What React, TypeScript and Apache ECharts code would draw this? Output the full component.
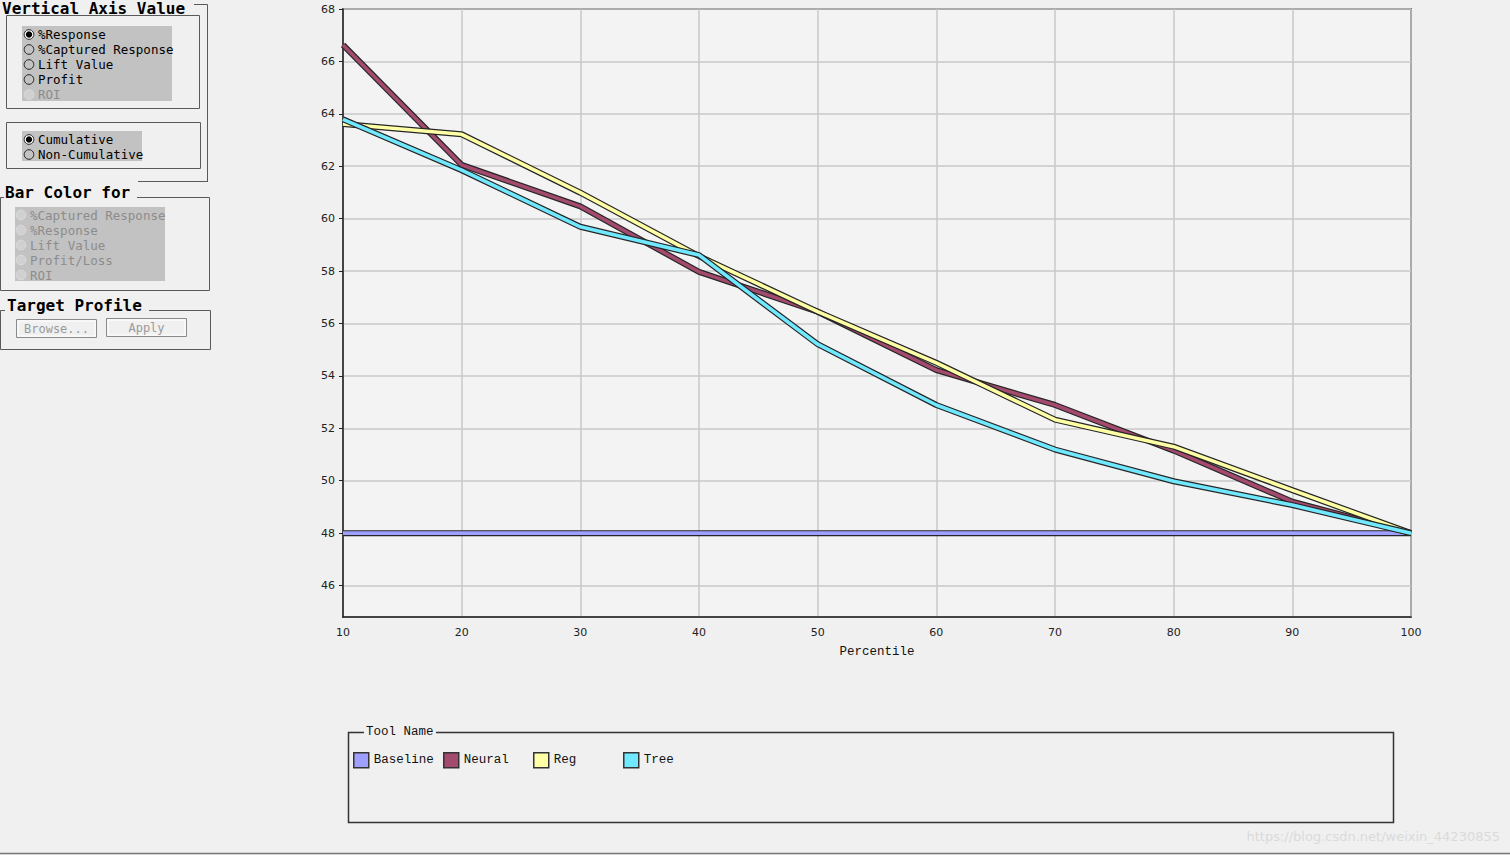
import React, { useEffect, useRef } from "react";
import * as echarts from "echarts";

const percentiles = [10, 20, 30, 40, 50, 60, 70, 80, 90, 100];
const seriesNames = ["Baseline", "Neural", "Reg", "Tree"];
const baselineValues = [48, 48, 48, 48, 48, 48, 48, 48, 48, 48];
const neuralValues = [66.63, 62.05, 60.47, 57.97, 56.45, 54.22, 52.89, 51.15, 49.2, 48.0];
const regValues = [63.61, 63.22, 60.99, 58.57, 56.45, 54.5, 52.33, 51.3, 49.64, 48.0];
const treeValues = [63.79, 61.85, 59.69, 58.61, 55.21, 52.89, 51.19, 49.98, 49.07, 48.0];
const seriesColors = ["#9f9fff", "#a34a6e", "#ffffa6", "#70e8ff"];
const axisValueOptions = ["%Response", "%Captured Response", "Lift Value", "Profit", "ROI"];
const cumulativeOptions = ["Cumulative", "Non-Cumulative"];
const barColorOptions = ["%Captured Response", "%Response", "Lift Value", "Profit/Loss", "ROI"];

const MONO = "'DejaVu Sans Mono', monospace";
const LEG = "'Liberation Mono', 'DejaVu Sans Mono', monospace";
const FRAME = "#5a5a5a";

function line(x1: number, y1: number, x2: number, y2: number, stroke = FRAME, lw = 1) {
  return { type: "line", silent: true, shape: { x1, y1, x2, y2 }, style: { stroke, lineWidth: lw } };
}
function label(text: string, x: number, y: number, font: string, fill = "#000", align = "left", valign = "middle") {
  return {
    type: "text",
    silent: true,
    x,
    y,
    style: { text, font, fill, textAlign: align, textVerticalAlign: valign },
  };
}
function radio(cx: number, cy: number, selected: boolean, disabled: boolean) {
  const els: any[] = [
    {
      type: "circle",
      silent: true,
      shape: { cx, cy, r: 4.8 },
      style: {
        fill: disabled ? "#d0d0d0" : selected ? "#ffffff" : "none",
        stroke: disabled ? "#dcdcdc" : "#222",
        lineWidth: 1,
      },
    },
  ];
  if (selected) {
    els.push({ type: "circle", silent: true, shape: { cx, cy, r: 3.2 }, style: { fill: "#000" } });
  }
  return els;
}

function buildPanel() {
  const g: any[] = [];
  // Group 1: Vertical Axis Value
  g.push(label("Vertical Axis Value", 2, 0, `bold 16px ${MONO}`, "#000", "left", "top"));
  g.push(line(194, 4.5, 207.5, 4.5));
  g.push(line(207.5, 4.5, 207.5, 182));
  g.push(line(138, 181.5, 207.5, 181.5));
  g.push({ type: "rect", silent: true, shape: { x: 6.5, y: 15.5, width: 193, height: 93 }, style: { fill: "none", stroke: FRAME, lineWidth: 1 } });
  g.push({ type: "rect", silent: true, shape: { x: 22, y: 26, width: 150, height: 75 }, style: { fill: "#c2c2c2" } });
  axisValueOptions.forEach((t, i) => {
    const cy = 34.5 + i * 15;
    const disabled = t === "ROI";
    g.push(...radio(29, cy, i === 0, disabled));
    g.push(label(t, 38, cy, `12.5px ${MONO}`, disabled ? "#8c8c8c" : "#000"));
  });
  g.push({ type: "rect", silent: true, shape: { x: 6.5, y: 122.5, width: 194, height: 46 }, style: { fill: "none", stroke: FRAME, lineWidth: 1 } });
  g.push({ type: "rect", silent: true, shape: { x: 22, y: 131, width: 120, height: 30 }, style: { fill: "#c2c2c2" } });
  cumulativeOptions.forEach((t, i) => {
    const cy = 139.5 + i * 15;
    g.push(...radio(29, cy, i === 0, false));
    g.push(label(t, 38, cy, `12.5px ${MONO}`));
  });

  // Group 2: Bar Color for
  g.push(label("Bar Color for", 5, 192, `bold 16px ${MONO}`));
  g.push(line(0.5, 197.5, 4, 197.5));
  g.push(line(137, 197.5, 209.5, 197.5));
  g.push(line(209.5, 197.5, 209.5, 290.5));
  g.push(line(0.5, 290.5, 209.5, 290.5));
  g.push(line(0.5, 197.5, 0.5, 290.5));
  g.push({ type: "rect", silent: true, shape: { x: 15, y: 207, width: 150, height: 74 }, style: { fill: "#c2c2c2" } });
  barColorOptions.forEach((t, i) => {
    const cy = 215 + i * 15;
    g.push(...radio(21, cy, false, true));
    g.push(label(t, 30, cy, `12.5px ${MONO}`, "#8c8c8c"));
  });

  // Group 3: Target Profile
  g.push(label("Target Profile", 7, 305, `bold 16px ${MONO}`));
  g.push(line(0.5, 310.5, 5, 310.5));
  g.push(line(149, 310.5, 210.5, 310.5));
  g.push(line(210.5, 310.5, 210.5, 349.5));
  g.push(line(0.5, 349.5, 210.5, 349.5));
  g.push(line(0.5, 310.5, 0.5, 349.5));
  g.push({ type: "rect", silent: true, shape: { x: 16.5, y: 319.5, width: 80, height: 18 }, style: { fill: "#f0f0f0", stroke: "#8a8a8a", lineWidth: 1 } });
  g.push({ type: "rect", silent: true, shape: { x: 18, y: 321, width: 77, height: 15 }, style: { fill: "none", stroke: "#ffffff", lineWidth: 1 } });
  g.push(label("Browse...", 56.5, 329, `12px ${MONO}`, "#9a9a9a", "center"));
  g.push({ type: "rect", silent: true, shape: { x: 106.5, y: 318.5, width: 80, height: 18 }, style: { fill: "#f0f0f0", stroke: "#8a8a8a", lineWidth: 1 } });
  g.push({ type: "rect", silent: true, shape: { x: 108, y: 320, width: 77, height: 15 }, style: { fill: "none", stroke: "#ffffff", lineWidth: 1 } });
  g.push(label("Apply", 146.5, 328, `12px ${MONO}`, "#9a9a9a", "center"));

  // Legend frame
  g.push({ type: "rect", silent: true, shape: { x: 348.5, y: 732.5, width: 1045, height: 90 }, style: { fill: "none", stroke: "#333", lineWidth: 1.5 } });
  g.push({ type: "rect", silent: true, shape: { x: 364, y: 726, width: 72, height: 13 }, style: { fill: "#f0f0f0" } });
  g.push(label("Tool Name", 366, 732, `12.5px ${LEG}`, "#111"));

  // watermark & bottom border
  g.push(label("https://blog.csdn.net/weixin_44230855", 1500, 836, "13px 'DejaVu Sans', sans-serif", "#dadada", "right"));
  g.push(line(0, 853.5, 1510, 853.5, "#777", 1.5));
  return g;
}

export default function App() {
  const ref = useRef<HTMLDivElement>(null);
  useEffect(() => {
    if (!ref.current) return;
    const chart = echarts.init(ref.current, null, { renderer: "svg" });
    const valueSets = [baselineValues, neuralValues, regValues, treeValues];
    const series: any[] = [];
    seriesNames.forEach((name, i) => {
      const data = percentiles.map((p, j) => [p, valueSets[i][j]]);
      series.push({
        name: name + " edge",
        type: "line",
        data,
        showSymbol: false,
        silent: true,
        lineStyle: { color: "#262626", width: 6 },
        itemStyle: { color: "#262626" },
      });
      series.push({
        name,
        type: "line",
        data,
        showSymbol: false,
        silent: true,
        lineStyle: { color: seriesColors[i], width: 3.6 },
        itemStyle: { color: seriesColors[i] },
      });
    });
    const legends = seriesNames.map((name, i) => ({
      data: [name],
      left: 353 + i * 90,
      top: 752,
      padding: 0,
      itemWidth: 15,
      itemHeight: 15,
      icon: "rect",
      itemStyle: { borderColor: "#333", borderWidth: 1.5 },
      textStyle: { fontFamily: LEG, fontSize: 12.5, color: "#111" },
      selectedMode: false,
    }));
    chart.setOption({
      animation: false,
      backgroundColor: "#f0f0f0",
      grid: {
        left: 343,
        top: 9,
        width: 1068,
        height: 608,
        show: true,
        backgroundColor: "#f3f3f3",
        borderColor: "#222",
        borderWidth: 1.5,
      },
      legend: legends,
      xAxis: {
        type: "value",
        min: 10,
        max: 100,
        interval: 10,
        name: "Percentile",
        nameLocation: "middle",
        nameGap: 28,
        nameTextStyle: { fontFamily: LEG, fontSize: 12.5, color: "#111" },
        axisLine: { lineStyle: { color: "#222", width: 1.5 } },
        axisTick: { show: false },
        axisLabel: { fontFamily: "'DejaVu Sans', sans-serif", fontSize: 11, color: "#222", margin: 10 },
        splitLine: { show: true, lineStyle: { color: "#c9c9c9", width: 1.5 } },
      },
      yAxis: {
        type: "value",
        min: 44.8,
        max: 68,
        splitNumber: 12,
        axisLine: { show: true, lineStyle: { color: "#222", width: 1.5 } },
        axisTick: { show: true, length: 4, lineStyle: { color: "#222" } },
        axisLabel: {
          fontFamily: "'DejaVu Sans', sans-serif",
          fontSize: 11,
          color: "#222",
          margin: 8,
          showMinLabel: false,
        },
        splitLine: { show: true, lineStyle: { color: "#c9c9c9", width: 1.5 } },
      },
      graphic: buildPanel(),
      series,
    });
    return () => chart.dispose();
  }, []);
  return (
    <div
      ref={ref}
      style={{ position: "absolute", left: 0, top: 0, width: 1510, height: 855, background: "#f0f0f0" }}
    />
  );
}
